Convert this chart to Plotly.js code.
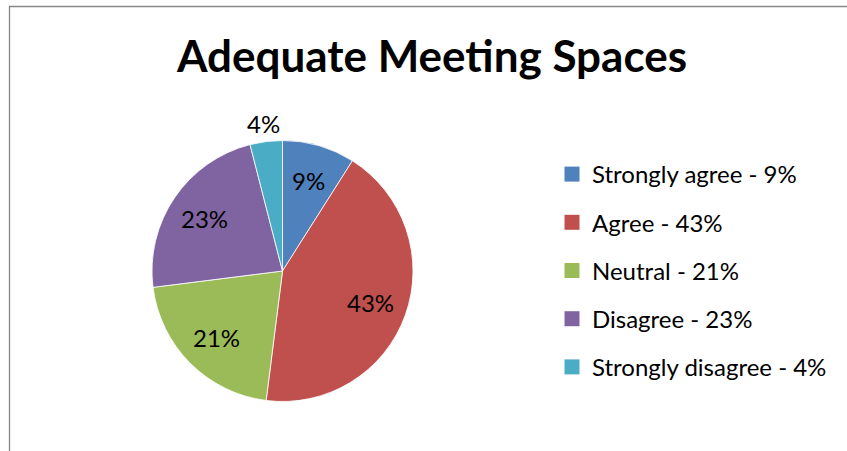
<!DOCTYPE html>
<html>
<head>
<meta charset="utf-8">
<script src="https://cdn.plot.ly/plotly-3.0.1.min.js"></script>
<style>html,body{margin:0;padding:0;background:#fff;}#chart{width:847px;height:451px;}</style>
</head>
<body>
<div id="chart"></div>
<script>
const categories = ["Strongly agree", "Agree", "Neutral", "Disagree", "Strongly disagree"];
const values = [9, 43, 21, 23, 4];
const legendLabels = ["Strongly agree - 9%", "Agree - 43%", "Neutral - 21%", "Disagree - 23%", "Strongly disagree - 4%"];
const colors = ["#4F81BD", "#C0504D", "#9BBB59", "#8064A2", "#4BACC6"];
const labelOutside = [false, false, false, false, true];

const W = 847, H = 451;
const cx = 282.5, cy = 271, r = 130.5;
const FONT = "Lato, 'Open Sans', sans-serif";

const traces = [{
  type: "pie",
  labels: categories,
  values: values,
  sort: false,
  direction: "clockwise",
  rotation: 0,
  marker: {colors: colors, line: {color: "#ffffff", width: 0.8}},
  textinfo: "none",
  showlegend: false,
  hoverinfo: "label+percent",
  domain: {x: [(cx - r) / W, (cx + r) / W], y: [(H - cy - r) / H, (H - cy + r) / H]}
}];

legendLabels.forEach((lab, i) => {
  traces.push({
    type: "scatter",
    x: [null], y: [null],
    mode: "markers",
    name: lab,
    legendgroup: "g" + i,
    marker: {symbol: "square", size: 15, color: colors[i]},
    showlegend: true,
    hoverinfo: "skip"
  });
});

// percentage labels placed from the data (mid-angle of each slice)
const total = values.reduce((a, b) => a + b, 0);
let cum = 0;
const annotations = values.map((v, i) => {
  const mid = (cum + v / 2) / total * 2 * Math.PI;
  cum += v;
  const rr = labelOutside[i] ? r + 18 : 0.72 * r;
  const px = cx + rr * Math.sin(mid);
  const py = cy - rr * Math.cos(mid);
  return {
    text: Math.round(v / total * 100) + "%",
    x: px / W, y: 1 - py / H, xref: "paper", yref: "paper",
    xanchor: "center", yanchor: "middle", showarrow: false,
    font: {family: FONT, size: 24, color: "#000000"}
  };
});

const layout = {
  width: W, height: H,
  margin: {l: 0, r: 0, t: 0, b: 0},
  paper_bgcolor: "#ffffff",
  plot_bgcolor: "#ffffff",
  title: {
    text: "Adequate Meeting Spaces",
    font: {family: FONT, size: 44, weight: 700, color: "#000000"},
    x: 432 / W, xanchor: "center",
    y: 1 - 57 / H, yanchor: "middle",
    xref: "paper", yref: "container"
  },
  xaxis: {visible: false},
  yaxis: {visible: false},
  showlegend: true,
  legend: {
    x: 552 / W, xanchor: "left",
    y: 1 - 152 / H, yanchor: "top",
    font: {family: FONT, size: 24, color: "#000000"},
    tracegroupgap: 14,
    bgcolor: "rgba(0,0,0,0)",
    traceorder: "grouped"
  },
  annotations: annotations,
  shapes: [{
    type: "rect", xref: "paper", yref: "paper",
    x0: 9.5 / W, x1: 1.2, y0: -0.2, y1: 1 - 6.5 / H,
    line: {color: "#878787", width: 1.3},
    fillcolor: "rgba(0,0,0,0)"
  }]
};

Plotly.newPlot("chart", traces, layout, {displayModeBar: false, staticPlot: true});
</script>
</body>
</html>
